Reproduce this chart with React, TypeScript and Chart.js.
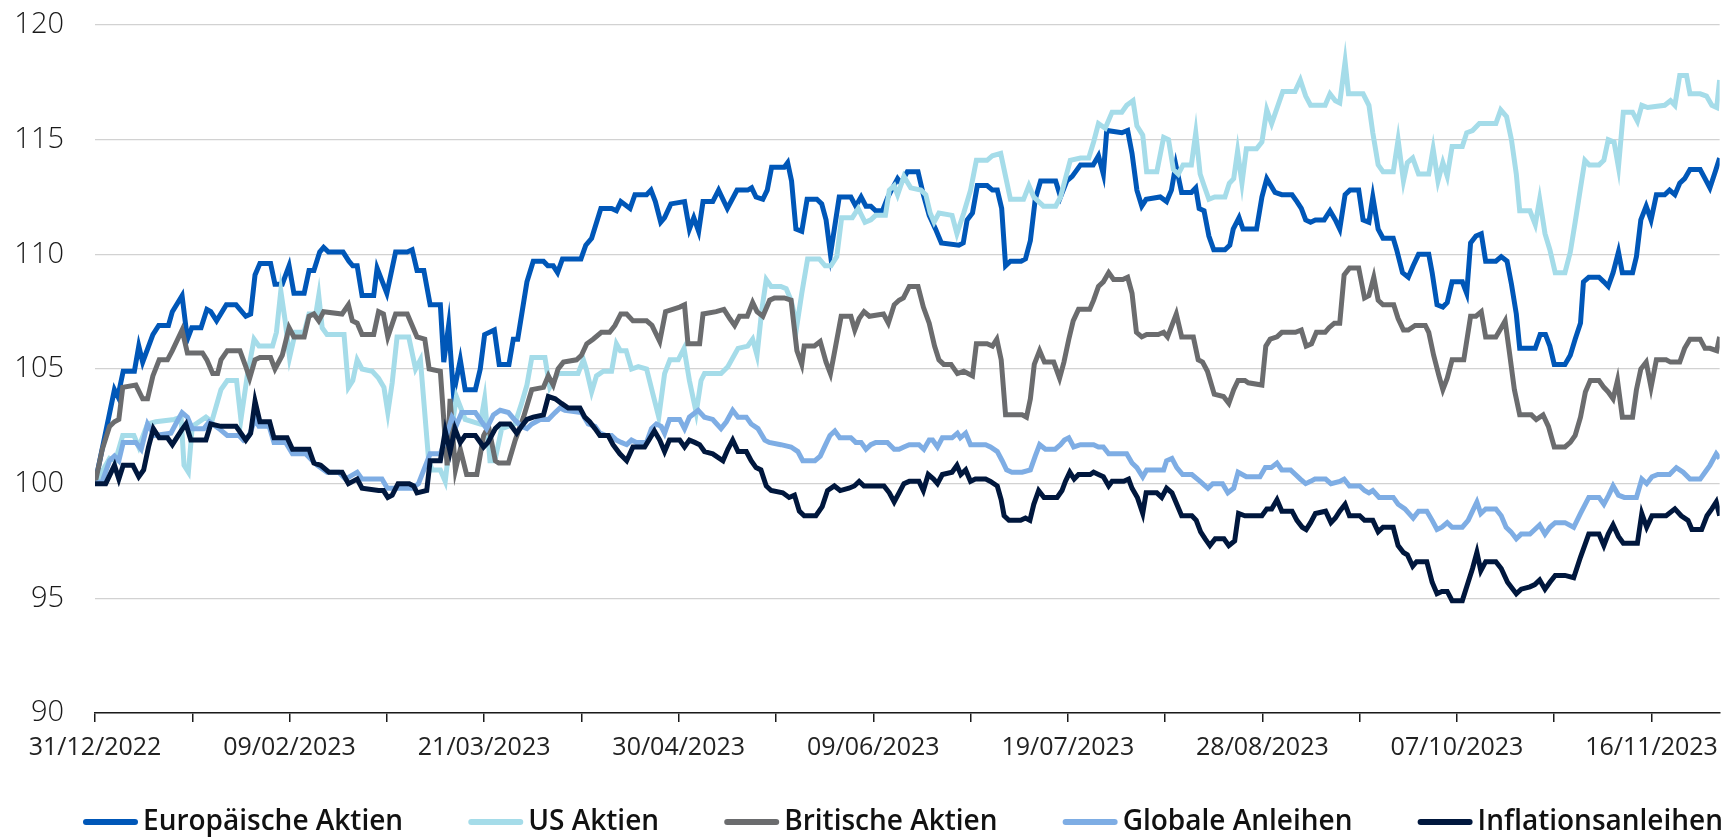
import React, { useEffect, useRef } from 'react';
import { Chart, registerables } from 'chart.js';

Chart.register(...registerables);

const FONT = "'Open Sans', 'Noto Sans', sans-serif";

const seriesLabels = ['Europäische Aktien', 'US Aktien', 'Britische Aktien', 'Globale Anleihen', 'Inflationsanleihen'];
const seriesColors = ['#0057B8', '#A5DCE9', '#6B6C6E', '#7EADE4', '#00173D'];
const xTickLabels = ['31/12/2022', '09/02/2023', '21/03/2023', '30/04/2023', '09/06/2023', '19/07/2023', '28/08/2023', '07/10/2023', '16/11/2023'];

// [day since 31/12/2022, index value]
const europaeischeAktien: [number, number][] = [
  [0,100],[4,104.1],[4.7,103.8],[5.8,104.9],[8.1,104.9],[9,106],[9.8,105.3],[11.9,106.5],[13.1,106.9],[15.1,106.9],[15.9,107.5],[17.9,108.2],[19,106.3],[19.9,106.8],[21.8,106.8],[23,107.6],[23.8,107.5],[25,107.1],[27,107.8],[29,107.8],[31,107.3],[32,107.4],[32.9,109.1],[33.9,109.6],[36.1,109.6],[37,108.7],[38.5,108.7],[39.9,109.5],[40.9,108.3],[43,108.3],[44,109.3],[45,109.3],[46.2,110.1],[47,110.3],[48,110.1],[51,110.1],[52.2,109.7],[53,109.5],[53.9,109.5],[54.9,108.2],[57.3,108.2],[58,109.4],[60,108.3],[61.8,110.1],[64.2,110.1],[65.2,110.2],[66.2,109.3],[67.6,109.3],[68.9,107.8],[71,107.8],[71.7,105.3],[72.7,106.9],[73.7,103.9],[75.1,105.4],[76.1,104.1],[78.2,104.1],[79.2,105],[80.1,106.5],[82.1,106.7],[83.1,105.2],[85.1,105.2],[86,106.3],[86.9,106.3],[88.8,108.8],[90.1,109.7],[92.2,109.7],[93.1,109.5],[94.2,109.5],[95.1,109.2],[96.1,109.8],[99.9,109.8],[100.9,110.4],[102.1,110.7],[104,112],[106.2,112],[107.2,111.9],[108.1,112.3],[110,112],[111,112.6],[113.4,112.6],[114.3,112.8],[115.2,112.3],[116.3,111.4],[117.1,111.6],[118.4,112.2],[121.2,112.3],[122.2,111.1],[123.1,111.6],[124.1,111],[125,112.3],[127,112.3],[128.2,112.8],[130,112],[132,112.8],[134.2,112.8],[135,112.9],[135.9,112.5],[137.3,112.4],[138.2,112.8],[139.1,113.8],[141.7,113.8],[142.4,114],[143.2,113.2],[144.1,111.1],[145.3,111],[146.4,112.4],[148.4,112.4],[149.4,112.2],[150.3,111.5],[151.2,110],[153,112.5],[155.4,112.5],[156.4,112.1],[157.5,112.5],[158.5,112.1],[159.5,112.1],[160.5,111.9],[161.9,111.9],[163,112.5],[165,113.3],[165.7,113.1],[167,113.6],[169.2,113.6],[170.3,112.6],[171.5,111.7],[172.8,111.1],[174,110.5],[177.6,110.4],[178.5,110.5],[179.3,111.5],[180.4,111.8],[181.4,113],[183.4,113],[184.5,112.8],[185.5,112.8],[186.4,112],[187.2,109.5],[188.2,109.7],[190.4,109.7],[191.3,109.8],[192.3,110.6],[193.3,112.4],[194.4,113.2],[197.5,113.2],[198.5,112.5],[199.8,113.2],[200.9,113.4],[202.6,113.9],[205.2,113.9],[206.3,114.3],[207.3,113.5],[208,115.4],[211.1,115.3],[212.3,115.4],[213.2,114.4],[214.2,112.8],[215.2,112.1],[216.1,112.4],[219,112.5],[220.3,112.3],[221.3,112.8],[222.2,113.9],[223.4,112.7],[225.4,112.7],[226.3,112.9],[227,112],[228,111.9],[229,110.8],[230,110.2],[232.3,110.2],[233.3,110.4],[234,111.1],[235.2,111.6],[236,111.1],[238.8,111.1],[239.9,112.5],[240.9,113.3],[242.6,112.7],[244,112.6],[246.1,112.6],[247.1,112.3],[248,112],[248.9,111.5],[249.9,111.4],[250.9,111.5],[252.7,111.5],[253.9,111.9],[255,111.5],[255.9,111.1],[257,112.6],[258,112.8],[259.8,112.8],[260.7,111.5],[261.9,111.4],[262.7,112.5],[263.8,111.1],[264.8,110.7],[266.9,110.7],[267.6,110.2],[268.8,109.2],[270,109],[271,109.5],[272.1,110],[274.2,110],[274.9,109.2],[275.9,107.8],[277.1,107.7],[278,107.9],[279,108.8],[281.1,108.8],[282,108.3],[282.8,110.5],[283.9,110.8],[285,110.9],[285.9,109.7],[288,109.7],[289.1,109.9],[290.3,109.7],[291.2,108.7],[292.2,107.4],[292.9,105.9],[296.1,105.9],[297.1,106.5],[298.2,106.5],[299.1,106],[300,105.2],[302.2,105.2],[303.3,105.6],[304.3,106.3],[305.4,107],[306,108.8],[307.1,109],[309.2,109],[310.2,108.8],[311.1,108.6],[312.1,109.2],[313.2,110.1],[314,109.2],[316.1,109.2],[316.9,109.9],[317.8,111.5],[318.9,112.1],[319.9,111.5],[321,112.6],[322.7,112.6],[323.7,112.8],[324.8,112.6],[325.8,113.1],[326.8,113.3],[327.9,113.7],[330,113.7],[331,113.3],[332,112.9],[333.1,113.6],[334,114.2]
];

const usAktien: [number, number][] = [
  [0,100],[3,101.1],[4.2,101],[5.7,102.1],[8,102.1],[9,101.6],[10.8,102.6],[12.5,102.7],[16.3,102.8],[17.7,102.9],[18.3,100.8],[19.2,100.5],[20,102.5],[22.8,102.9],[24,102.7],[25.9,104.1],[27.2,104.5],[29.1,104.5],[30,102.8],[31.3,104.7],[32.7,106.3],[33.7,106],[36.5,106],[37.3,106.6],[38.2,108.4],[39.1,107.1],[40,105.5],[41.2,106.6],[43,106.6],[44,107.4],[45.4,107.4],[46,108.2],[46.7,106.8],[47.7,106.5],[51.2,106.5],[52.1,104.2],[53,104.5],[53.9,105.4],[54.9,105],[57,104.9],[58.3,104.6],[59.4,104.2],[60.2,103.1],[61.1,104.4],[62.1,106.4],[64.5,106.4],[65.9,105],[66.9,105.4],[68.6,101],[69.3,100.6],[71,100.6],[72,100.1],[73,101.9],[74.3,103.8],[76.1,102.8],[79.2,102.6],[80.1,103.7],[81.2,101],[82.2,101],[83.6,102.4],[86.3,102.6],[87.7,103.5],[88.8,104.3],[89.8,105.5],[92.5,105.5],[93.5,104.2],[95.2,104.8],[99.3,104.8],[100.4,105.4],[101,105],[102.1,104],[103.1,104.7],[104.5,104.9],[106.2,104.9],[107.2,106.1],[108,105.8],[109.2,105.8],[110.3,105],[111.7,105.1],[113.4,105],[114.7,103.9],[115.9,102.9],[117.1,104.8],[118.2,105.4],[119.9,105.4],[121.1,105.9],[122.2,104.5],[123.6,103.1],[124.6,104.5],[125.3,104.8],[128.7,104.8],[130.1,105.1],[132.2,105.9],[134.2,106],[135.2,106.3],[136.1,105.6],[137.1,107.6],[138,108.9],[139,108.6],[141,108.6],[142.1,108.5],[143.1,108],[144.3,106.9],[145.3,108.3],[146.5,109.8],[148.9,109.8],[150.1,109.5],[151.3,109.5],[152.5,109.9],[153.5,111.6],[155.7,111.6],[156.9,112],[158.3,111.4],[159.5,111.5],[160.5,111.7],[162.5,111.7],[163.3,112.8],[164.3,113],[165,112.6],[166.3,113.4],[167.7,112.9],[169.8,112.8],[170.8,112.6],[171.7,111.8],[172.5,111.4],[173.5,111.8],[176.2,111.7],[177.2,110.9],[178.6,111.8],[180,112.8],[181.2,114.1],[183.4,114.1],[184.5,114.3],[186.2,114.4],[187.2,113.4],[188.2,112.4],[190.9,112.4],[192,113],[193,112.5],[195,112.1],[197.5,112.1],[198.5,112.5],[199.5,113.3],[200.5,114.1],[202.6,114.2],[204.3,114.2],[205.3,114.9],[206.3,115.7],[207.7,115.5],[209.1,116.2],[211.1,116.2],[212.1,116.5],[213.4,116.7],[214.2,115.6],[215.4,115.2],[216.2,113.6],[218.3,113.6],[219.7,115.1],[220.7,115],[221.7,113.7],[222.7,113.5],[223.7,113.9],[225.4,113.9],[226.3,115.3],[227.2,113.5],[228,113],[229,112.4],[230.2,112.5],[232.3,112.5],[233.2,113.1],[234.1,113.3],[234.9,114.5],[235.8,113.1],[236.7,114.6],[238.8,114.6],[239.9,114.9],[240.9,116.3],[241.9,115.7],[244.2,117.1],[246.7,117.1],[247.8,117.6],[248.9,116.9],[249.9,116.5],[252.9,116.5],[253.9,117],[255,116.7],[255.9,116.6],[257,118.4],[257.7,117],[260.7,117],[261.9,116.5],[262.7,115.3],[263.8,113.9],[264.8,113.6],[266.9,113.6],[267.9,115],[269,113.2],[269.8,114],[270.9,114.2],[272.1,113.5],[274.2,113.5],[275.1,114.6],[276.1,113.2],[277.1,114],[278,113.4],[279,114.7],[281.1,114.7],[282,115.3],[283.2,115.4],[284.6,115.7],[288,115.7],[289,116.3],[290.2,116],[291.2,115],[292.2,113.5],[292.9,111.9],[295,111.9],[296.1,111.3],[297,112.4],[298.1,110.9],[299.1,110.2],[300.2,109.2],[302.2,109.2],[303.3,110.1],[304.3,111.4],[305.4,112.9],[306.3,114.1],[307.2,113.9],[309.2,113.9],[310.2,114.1],[311.1,115],[312.3,114.9],[313.2,113.8],[314.2,116.2],[316.1,116.2],[317.1,115.8],[318,116.5],[319.2,116.4],[322.7,116.5],[323.9,116.7],[324.8,116.5],[325.8,117.8],[327.2,117.8],[327.9,117],[330,117],[331.3,116.9],[332.4,116.5],[333.4,116.4],[334,117.6]
];

const britischeAktien: [number, number][] = [
  [0,100],[1.5,101.5],[3,102.5],[4,102.7],[4.9,102.8],[5.7,104.2],[8.4,104.3],[9.8,103.7],[10.8,103.7],[11.9,104.7],[13.2,105.4],[14.9,105.4],[15.9,105.8],[17.9,106.7],[19,105.7],[22.1,105.7],[23,105.4],[24.2,104.8],[25.2,104.8],[25.9,105.4],[27.2,105.8],[29.8,105.8],[31,105.1],[31.8,104.6],[32.9,105.4],[33.9,105.5],[36.1,105.5],[37,105],[38.5,105.6],[39.9,106.8],[40.9,106.4],[43,106.4],[44,107.3],[45,107.4],[46,107.1],[47,107.5],[50.8,107.4],[52.1,107.8],[52.9,107.1],[53.9,107],[54.9,106.5],[57.3,106.5],[58.3,107.5],[59.3,107.4],[60.2,106.4],[61.8,107.4],[64.2,107.4],[65.2,106.9],[66.2,106.4],[67.8,106.3],[68.7,105],[71,104.9],[71.9,102.2],[72.4,100.8],[73,103.7],[74.1,100.6],[75.1,101.5],[76.4,100.4],[78.5,100.4],[79.9,102.1],[80.9,102.5],[82.3,101],[83,100.9],[85,100.9],[86.4,101.9],[88.1,102.9],[89.8,104.1],[92.2,104.2],[93.2,104.7],[94.2,104.3],[95.2,105],[96.3,105.3],[99,105.4],[100,105.6],[101.1,106.1],[102.4,106.3],[104.1,106.6],[105.8,106.6],[106.9,106.9],[108.1,107.4],[109.3,107.4],[110.6,107.1],[113.4,107.1],[114.5,106.9],[116.1,106.2],[117.3,107.5],[120.2,107.7],[121.2,107.8],[121.9,106.1],[124.3,106.1],[125,107.4],[127.7,107.5],[129.3,107.6],[130.5,107.2],[131.5,106.9],[132.5,107.3],[134.1,107.3],[135.2,107.9],[136.1,107.5],[137.3,107.3],[138.7,108],[139.7,108.1],[141.7,108.1],[143.1,108],[144.3,105.8],[145.3,105.2],[145.8,106],[147.9,106],[149.1,106.2],[150.3,105.3],[151.2,104.8],[152,105.7],[153.4,107.3],[155.4,107.3],[156.2,106.7],[157.1,107.2],[158.1,107.5],[159.2,107.3],[162.1,107.4],[163.1,107],[164.3,107.8],[165.3,108],[166.2,108.1],[167.4,108.6],[169.2,108.6],[170.3,107.7],[171.5,107],[172.6,106],[173.5,105.4],[174.5,105.2],[176,105.2],[177.3,104.8],[178.6,104.9],[180.4,104.7],[181.2,106.1],[183.4,106.1],[184.5,106],[185.4,106.3],[186.3,105.4],[187.2,103],[190.6,103],[191.5,102.9],[192.3,103.7],[193.1,105.2],[194.2,105.8],[195.2,105.3],[197.1,105.3],[198.3,104.6],[199.2,105.3],[200.2,106.3],[201.1,107.1],[202.2,107.6],[204.5,107.6],[205.3,108],[206.3,108.6],[207.3,108.8],[208.4,109.2],[209.4,108.9],[211.3,108.9],[212.3,109],[213.2,108.3],[214.1,106.6],[215.2,106.4],[216.2,106.5],[218.6,106.5],[219.7,106.6],[220.5,106.4],[221.4,106.9],[222.3,107.4],[223.4,106.4],[225.8,106.4],[226.8,105.4],[227.7,105.3],[228.7,104.9],[230.1,103.9],[232,103.8],[233.1,103.5],[234.1,104.1],[235,104.5],[236.4,104.5],[237.1,104.4],[239.9,104.3],[240.7,106],[241.6,106.3],[243,106.4],[244,106.6],[246.8,106.6],[248,106.7],[249,106],[250.1,106.1],[251.1,106.6],[252.9,106.6],[253.7,106.8],[254.8,107],[255.9,107],[256.8,109.1],[257.9,109.4],[259.8,109.4],[261,108.1],[261.9,108.2],[262.9,109],[263.8,108],[264.8,107.8],[267,107.8],[267.9,107.2],[269,106.7],[270,106.7],[271.4,106.9],[273.5,106.9],[274.2,106.6],[275.2,105.6],[276.3,104.7],[277.1,104.1],[278,104.6],[279,105.4],[281.4,105.4],[282.8,107.3],[283.9,107.3],[285,107.5],[285.9,106.4],[288,106.4],[289.1,106.8],[289.9,107.1],[290.8,105.7],[291.8,104.1],[292.9,103],[295.3,103],[296.3,102.8],[297.7,103],[298.8,102.5],[300,101.6],[302.2,101.6],[303.3,101.8],[304.3,102.1],[305.4,102.9],[306.4,104],[307.4,104.5],[309.2,104.5],[310.2,104.2],[311.1,104],[312.1,103.7],[313,104.5],[314,102.9],[316.1,102.9],[316.9,104.1],[317.8,105],[318.9,105.3],[319.9,104.2],[321,105.4],[323,105.4],[323.9,105.3],[325.8,105.3],[326.8,105.9],[327.9,106.3],[330,106.3],[331,105.9],[332,105.9],[333.4,105.8],[334,106.4]
];

const globaleAnleihen: [number, number][] = [
  [0,100],[1.5,100.1],[3,101],[4,101.2],[4.9,101],[5.8,101.8],[8.4,101.8],[9.5,101.5],[10.8,102.6],[12.2,102.1],[15.6,102.2],[16.6,102.6],[17.9,103.1],[19,102.9],[20,102.4],[22.4,102.4],[23.5,102.7],[25.5,102.4],[27.2,102.1],[29.6,102.1],[30.5,101.9],[31.7,102.1],[32.9,102.8],[33.7,102.5],[35.8,102.5],[36.8,101.8],[39.2,101.8],[40.6,101.3],[43.3,101.3],[44.7,101],[45.7,100.8],[47.7,100.5],[50.1,100.5],[51.5,100.2],[53.9,100.5],[54.9,100.2],[59,100.2],[60.1,99.8],[65.2,99.8],[66.5,100],[67.6,100.6],[68.9,101.3],[71,101.3],[72,101.9],[73.4,102.9],[74.4,102.6],[75.4,103.1],[78.2,103.1],[79.5,102.7],[80.5,102.4],[81.9,103],[83.3,103.2],[85,103.1],[86.2,102.8],[87.7,102.5],[88.8,102.4],[89.8,102.6],[91.5,102.8],[93.2,102.8],[94.6,103.1],[95.6,103.3],[96.6,103.2],[100,103.1],[101.4,102.6],[102.8,102.5],[103.8,102.2],[105.1,102.1],[106.2,102.1],[107.2,101.9],[108.2,101.8],[109.3,101.7],[110.3,101.9],[111.3,101.8],[113.4,101.8],[114.4,102.4],[115.4,102.6],[116.4,102.5],[117.1,102.2],[118.1,102.8],[120.2,102.8],[121.2,102.4],[122.2,102.9],[124,103.2],[125.3,102.9],[127,102.8],[128.7,102.4],[129.8,102.7],[131.1,103.2],[132.2,102.9],[133.9,102.9],[134.9,102.6],[136.3,102.4],[137.7,101.9],[138.6,101.8],[141,101.7],[143.1,101.6],[144.5,101.4],[145.5,101],[148,101],[149.1,101.2],[150.2,101.7],[151.1,102.1],[152.1,102.3],[153.1,102],[155.4,102],[156.4,101.8],[157.5,101.8],[158.5,101.5],[159.5,101.7],[160.5,101.8],[162.9,101.8],[164.3,101.5],[165.3,101.5],[166.3,101.6],[167.4,101.7],[169.4,101.7],[170.4,101.5],[171.5,101.9],[172.2,101.9],[173.2,101.6],[174.2,102],[176.2,102],[177.3,102.2],[177.9,102],[179,102.2],[180,101.7],[183.1,101.7],[184.1,101.6],[185.5,101.4],[186.5,101],[187.4,100.6],[188.5,100.5],[190.6,100.5],[192.3,100.6],[193.3,101.2],[194.2,101.7],[195.4,101.5],[197.4,101.5],[198.5,101.7],[199.3,101.9],[200.2,102],[201.2,101.6],[202.6,101.7],[205.3,101.7],[206.3,101.6],[207.3,101.6],[208.4,101.3],[210.4,101.3],[212.1,101.3],[213.2,100.9],[214.2,100.7],[215.4,100.3],[216.2,100.6],[218.6,100.6],[219.7,100.6],[220.3,101],[221.4,101.1],[222.4,100.7],[223.6,100.4],[225.5,100.4],[227.2,100.1],[228.8,99.8],[229.8,100],[231.8,100],[232.9,99.6],[234.1,99.8],[235,100.5],[236.7,100.3],[239.5,100.3],[240.6,100.7],[241.8,100.7],[243,100.9],[244,100.6],[245.8,100.6],[246.8,100.4],[247.8,100.2],[248.9,100],[249.9,100.1],[250.8,100.2],[253,100.2],[254.1,100],[255.9,100.1],[256.8,100.2],[257.9,99.9],[260,99.9],[261,99.7],[261.9,99.6],[262.7,99.7],[264,99.4],[266.9,99.4],[267.9,99.1],[269.3,98.9],[271,98.5],[272.1,98.8],[273.8,98.8],[274.9,98.4],[275.9,98],[276.9,98.1],[278,98.3],[279,98.1],[281.1,98.1],[282.3,98.4],[283.2,98.8],[284.1,99.2],[284.9,98.7],[285.9,98.9],[288,98.9],[289.1,98.6],[290.1,98.1],[291.1,97.9],[292.2,97.6],[293.2,97.8],[295,97.8],[296,98],[297,98.2],[298.1,97.8],[299.1,98.1],[300.2,98.3],[302.2,98.3],[304,98.1],[305.4,98.7],[307.1,99.4],[309.2,99.4],[310.2,99.1],[311.2,99.5],[312.1,99.9],[313.2,99.5],[314.4,99.4],[316.9,99.4],[318,100.2],[319,100],[320.1,100.3],[321.3,100.4],[323.7,100.4],[325.1,100.7],[326.5,100.5],[327.9,100.2],[330,100.2],[331,100.5],[332,100.8],[333.3,101.3],[334,101.1]
];

const inflationsanleihen: [number, number][] = [
  [0,100],[2.2,100],[4,100.8],[4.9,100.2],[5.8,100.8],[7.8,100.8],[9,100.3],[10,100.6],[11,101.6],[12,102.4],[13.2,102],[14.9,102],[15.9,101.7],[17.7,102.3],[18.7,102.6],[19.7,101.9],[22.8,101.9],[23.8,102.6],[25.9,102.5],[29,102.5],[30,102.2],[31,101.9],[32,102.2],[32.9,103.6],[33.9,102.7],[35.9,102.7],[36.8,102],[39.5,102],[40.6,101.5],[44,101.5],[45,100.9],[46.4,100.8],[48.1,100.5],[50.8,100.5],[52.1,100],[53,100.1],[53.9,100.2],[54.9,99.8],[58.3,99.7],[59.3,99.7],[60.2,99.4],[61.1,99.5],[62.3,100],[64.6,100],[65.5,99.9],[66.2,99.6],[68.2,99.7],[68.9,101],[71,101],[72,102.3],[73,101.4],[74,102.4],[75.1,101.8],[76.1,102.1],[78.2,102.1],[79.9,101.6],[80.8,101.8],[82.3,102.4],[83.3,102.6],[85.3,102.6],[86.7,102.2],[87.7,102.5],[88.8,102.8],[90.1,102.9],[92.2,103],[93.2,103.8],[94.6,103.7],[95.9,103.5],[97.3,103.3],[99.7,103.3],[100.7,102.9],[101.7,102.7],[102.8,102.4],[103.8,102.1],[105.5,102.1],[106.5,101.7],[107.9,101.3],[109.3,101],[110.6,101.6],[113,101.6],[115,102.3],[116.1,101.9],[117.1,101.4],[118.1,101.9],[120.2,101.9],[121.2,101.6],[122.2,101.9],[123.3,101.8],[124.3,101.7],[125.3,101.4],[127,101.3],[129.1,101],[130.1,101.5],[131.1,101.9],[132.2,101.4],[133.9,101.4],[134.9,101],[135.9,100.7],[136.9,100.6],[138,99.9],[139,99.7],[141.4,99.6],[142.7,99.4],[143.8,99.5],[144.8,98.8],[145.8,98.6],[148.2,98.6],[149.5,99],[150.6,99.7],[152,99.9],[153.2,99.7],[155,99.8],[156.1,99.9],[157.1,100.1],[158.1,99.9],[162.2,99.9],[163.3,99.6],[164.3,99.2],[165.3,99.6],[166.3,100],[167.4,100.1],[169.4,100.1],[170.3,99.7],[171.3,100.4],[172.4,100.2],[173.2,100],[174.2,100.4],[176.2,100.5],[177.2,100.8],[178,100.4],[179,100.6],[180,100.1],[181,100.2],[183.1,100.2],[184.1,100.1],[185.5,99.9],[186.3,99.3],[186.9,98.6],[187.9,98.4],[190.3,98.4],[191.3,98.5],[192.2,98.4],[193,99.1],[194,99.7],[195.1,99.4],[197.8,99.4],[198.8,99.7],[199.5,100.1],[200.4,100.5],[201.3,100.2],[202.2,100.4],[204.6,100.4],[205.3,100.5],[206.3,100.4],[207.3,100.3],[208.4,99.9],[209.1,100.1],[211.5,100.1],[212.5,100.2],[213.2,99.8],[214.3,99.4],[215.4,98.7],[216.1,99.6],[218.3,99.6],[219.3,99.4],[220.3,99.8],[221.4,99.6],[222.4,99.1],[223.4,98.6],[225.5,98.6],[226.4,98.4],[227.3,97.9],[228.2,97.6],[229.2,97.3],[230.3,97.6],[232.1,97.6],[233.1,97.3],[234.3,97.5],[235.1,98.7],[236.4,98.6],[239.9,98.6],[240.9,98.9],[241.9,98.9],[243,99.3],[244,98.8],[246.1,98.8],[247.1,98.4],[248.2,98.1],[249,98],[249.9,98.3],[250.9,98.7],[253,98.8],[254.1,98.3],[255,98.5],[255.9,98.8],[257,99.1],[257.9,98.6],[260,98.6],[261,98.4],[262.7,98.4],[263.8,97.9],[264.8,98.1],[266.9,98.1],[267.9,97.3],[269,97],[269.8,96.9],[270.9,96.4],[271.7,96.6],[273.8,96.6],[274.9,95.7],[275.9,95.2],[276.9,95.3],[278,95.3],[279,94.9],[281.1,94.9],[282.3,95.7],[283.2,96.3],[284.1,97],[284.9,96.2],[285.9,96.6],[288,96.6],[289.1,96.3],[290.4,95.7],[292.2,95.2],[293.2,95.4],[295,95.5],[296,95.6],[297,95.8],[298.1,95.4],[299.1,95.7],[300.2,96],[302.2,96],[304,95.9],[305.4,96.8],[307.1,97.8],[309.2,97.8],[310.2,97.3],[311.1,97.8],[312.1,98.2],[313.2,97.7],[314.2,97.4],[317.1,97.4],[318,98.7],[319,98.1],[320.1,98.6],[323,98.6],[324.8,98.9],[326.1,98.6],[327.5,98.4],[328.3,98],[330.3,98],[331.4,98.6],[332.4,98.9],[333.3,99.2],[334,98.6]
];

const seriesData = [europaeischeAktien, usAktien, britischeAktien, globaleAnleihen, inflationsanleihen];

// Legend drawn with the chart's own dataset labels/colours, laid out in one row under the axis
const lineLegendPlugin = {
  id: 'lineLegend',
  afterDraw(chart: any) {
    const ctx = chart.ctx as CanvasRenderingContext2D;
    const left = 83;
    const right = 1723;
    const y = 822;
    const markW = 55;
    const markGap = 5;
    ctx.save();
    ctx.font = `600 28px ${FONT}`;
    const items = chart.data.datasets.map((ds: any) => ({
      text: ds.label as string,
      color: ds.borderColor as string,
      w: ctx.measureText(ds.label).width,
    }));
    const used = items.reduce((s: number, it: any) => s + markW + markGap + it.w, 0);
    const gap = (right - left - used) / (items.length - 1);
    let x = left;
    for (const it of items) {
      ctx.strokeStyle = it.color;
      ctx.lineWidth = 6;
      ctx.lineCap = 'round';
      ctx.beginPath();
      ctx.moveTo(x + 3, y);
      ctx.lineTo(x + markW - 3, y);
      ctx.stroke();
      ctx.fillStyle = '#111111';
      ctx.textAlign = 'left';
      ctx.textBaseline = 'middle';
      ctx.fillText(it.text, x + markW + markGap, y);
      x += markW + markGap + it.w + gap;
    }
    ctx.restore();
  },
};

export default function App() {
  const canvasRef = useRef<HTMLCanvasElement | null>(null);

  useEffect(() => {
    document.body.style.margin = '0';
    const canvas = canvasRef.current;
    if (!canvas) return;

    const datasets = seriesData.map((pts, i) => ({
      label: seriesLabels[i],
      data: pts.map(([x, y]) => ({ x, y })),
      borderColor: seriesColors[i],
      backgroundColor: seriesColors[i],
      borderWidth: 5,
      pointRadius: 0,
      pointHoverRadius: 0,
      tension: 0,
      fill: false,
      order: seriesLabels.length - i,
    }));

    const chart = new Chart(canvas, {
      type: 'line',
      data: { datasets },
      plugins: [lineLegendPlugin],
      options: {
        responsive: false,
        animation: false,
        devicePixelRatio: 1,
        layout: { padding: { top: 25, right: 3, left: 0, bottom: 70 } },
        plugins: {
          tooltip: { enabled: false },
          legend: { display: false },
        },
        scales: {
          x: {
            type: 'linear',
            min: 0,
            max: 334,
            afterFit: (s: any) => { s.height = 54; },
            border: { display: true, color: '#1a1a1a', width: 1.5 },
            grid: { drawOnChartArea: false, drawTicks: true, tickLength: 9, color: '#1a1a1a', lineWidth: 1.5 },
            ticks: {
              stepSize: 20,
              includeBounds: false,
              autoSkip: false,
              maxRotation: 0,
              minRotation: 0,
              padding: 11,
              color: '#222222',
              font: { family: FONT, size: 25 },
              callback: (v: any) => {
                const n = Math.round(Number(v));
                return n % 40 === 0 ? xTickLabels[n / 40] : '';
              },
            },
          },
          y: {
            min: 90,
            max: 120,
            afterFit: (s: any) => { s.width = 95; },
            border: { display: false },
            grid: {
              color: '#d2d2d2',
              lineWidth: 1.3,
              drawTicks: true,
              tickLength: 31,
              tickColor: 'rgba(0,0,0,0)',
            },
            ticks: {
              stepSize: 5,
              padding: 0,
              color: '#1a1a1a',
              font: { family: FONT, size: 29, weight: '300' },
            },
          },
        },
      } as any,
    });

    return () => chart.destroy();
  }, []);

  return (
    <div style={{ width: 1729, height: 837 }}>
      <canvas ref={canvasRef} width={1729} height={837} style={{ display: 'block' }} />
    </div>
  );
}
